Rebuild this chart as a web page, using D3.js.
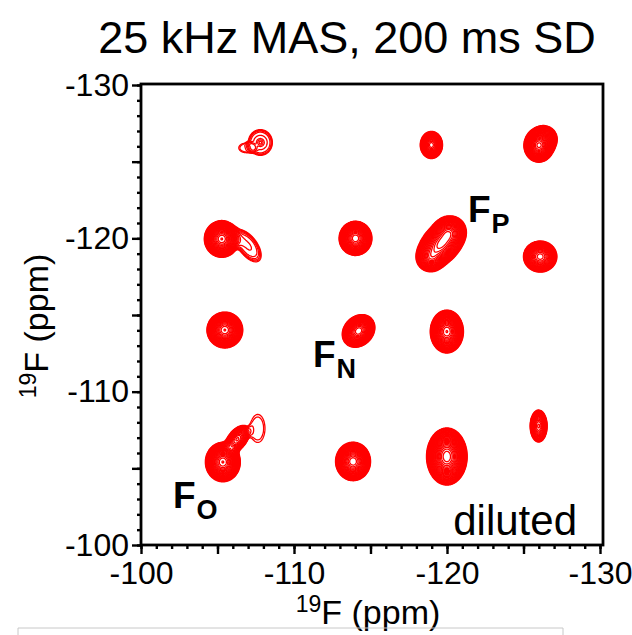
<!DOCTYPE html>
<html>
<head>
<meta charset="utf-8">
<script src="https://cdn.jsdelivr.net/npm/d3@7"></script>
<style>
  body { margin: 0; background: #fff; }
  svg { display: block; }
  text { font-family: "Liberation Sans", Arial, sans-serif; fill: #000; }
</style>
</head>
<body>
<svg id="chart" width="632" height="635"></svg>
<script>
// ---- Axis ranges and ticks (ppm) ----
const xDomain = [-100, -130];
const yDomain = [-130, -100];
const majorTicks = [-100, -105, -110, -115, -120, -125, -130];
const labelTicks = [-100, -110, -120, -130];
const minorTicks = d3.range(-100, -130.5, -1);

// ---- Peak components of the 19F-19F spin-diffusion spectrum ----
// centre shifts (ppm), widths (ppm, along the rotated principal axes),
// axis rotation (deg), relative height, line-shape exponent (1 = Gaussian, >1 flat-topped)
const peakF2     = [-107.80, -106.90, -107.80, -118.98, -126.00, -126.34, -105.28, -107.00, -119.61, -120.13, -118.95, -114.02, -126.09, -105.48, -114.22, -119.99, -105.35, -106.30, -107.63, -113.86, -119.99, -125.99];
const peakF1     = [-126.25, -125.90, -126.25, -126.09, -126.05, -126.48, -119.96, -119.50, -119.63, -120.41, -118.72, -120.00, -118.81, -114.02, -113.96, -113.92, -105.41, -106.90, -107.60, -105.45, -105.77, -107.76];
const peakWidthA = [0.60, 0.45, 0.15, 0.28, 0.34, 0.40, 0.40, 0.90, 0.70, 0.40, 0.36, 0.385, 0.42, 0.41, 0.42, 0.38, 0.40, 0.45, 0.43, 0.41, 0.45, 0.24];
const peakWidthB = [0.64, 0.28, 0.15, 0.34, 0.38, 0.40, 0.42, 0.45, 0.45, 0.40, 0.36, 0.40, 0.39, 0.41, 0.34, 0.49, 0.45, 0.26, 0.83, 0.45, 0.63, 0.45];
const peakAngle  = [0, 0, 0, 0, 0, 0, 0, 126, 47.7, 0, 0, 0, 0, 0, 45, 0, 0, 52, 0, 0, 0, 0];
const peakHeight = [1.9, 1.3, 1.3, 30, 60, 10, 60, 2.2, 40, 22, 14, 50, 30, 60, 50, 60, 60, 15, 1.25, 50, 80, 15];
const peakShape  = [3, 3, 1, 1, 1, 1, 1, 2, 1, 1, 1, 1, 1, 1, 1, 1, 1, 1, 3, 1, 1, 1];

// contour levels: geometric series above the base level
const contourBase = 1, contourFactor = 1.17, contourCount = 34;

// ---- Layout ----
const svg = d3.select("#chart");
const margin = { left: 141, right: 600, top: 85, bottom: 545 };
const x = d3.scaleLinear().domain(xDomain).range([margin.left, margin.right]);
const y = d3.scaleLinear().domain(yDomain).range([margin.top, margin.bottom]);

// ---- Spectrum grid ----
const step = 0.05;
const nx = Math.round(Math.abs(xDomain[1] - xDomain[0]) / step) + 1;
const ny = Math.round(Math.abs(yDomain[1] - yDomain[0]) / step) + 1;
const grid = new Float64Array(nx * ny);
for (let k = 0; k < peakF2.length; k++) {
  const cu = peakF2[k], cv = peakF1[k];
  const sa = peakWidthA[k], sb = peakWidthB[k];
  const th = peakAngle[k] * Math.PI / 180, c = Math.cos(th), s = Math.sin(th);
  const A = peakHeight[k], p = peakShape[k];
  const reach = 6 * Math.max(sa, sb);
  for (let j = 0; j < ny; j++) {
    const v = yDomain[0] + j * step;
    if (Math.abs(v - cv) > reach) continue;
    for (let i = 0; i < nx; i++) {
      const u = xDomain[0] - i * step;
      if (Math.abs(u - cu) > reach) continue;
      const du = u - cu, dv = v - cv;
      const a = du * c + dv * s, b = -du * s + dv * c;
      const q = (a * a) / (sa * sa) + (b * b) / (sb * sb);
      grid[j * nx + i] += A * Math.exp(-Math.pow(q / 2, p));
    }
  }
}

const thresholds = d3.range(contourCount).map(k => contourBase * Math.pow(contourFactor, k));
const contours = d3.contours().size([nx, ny]).thresholds(thresholds)(grid);

const toPlot = d3.geoTransform({
  point(gx, gy) {
    this.stream.point(x(xDomain[0] - (gx - 0.5) * step), y(yDomain[0] + (gy - 0.5) * step));
  }
});
const path = d3.geoPath(toPlot);

svg.append("g")
  .attr("fill", "none")
  .attr("stroke", "#ff0000")
  .attr("stroke-width", 1.3)
  .attr("stroke-linejoin", "round")
  .selectAll("path")
  .data(contours)
  .join("path")
  .attr("d", path);

// ---- Frame ----
svg.append("rect")
  .attr("x", margin.left).attr("y", margin.top - 1)
  .attr("width", 603 - margin.left).attr("height", margin.bottom - margin.top + 1)
  .attr("fill", "none").attr("stroke", "#000").attr("stroke-width", 2.8);

// ---- Axes ----
const axisFont = 32;
function styleAxis(g) {
  g.select(".domain").remove();
  g.selectAll(".tick line").attr("stroke", "#000").attr("stroke-width", 2.4);
  g.selectAll(".tick text").attr("font-size", axisFont)
    .style("font-family", '"Liberation Sans", Arial, sans-serif').attr("fill", "#000");
}
const tickLabel = d => labelTicks.includes(d) ? String(d) : "";

svg.append("g").attr("transform", `translate(0,${margin.bottom})`)
  .call(d3.axisBottom(x).tickValues(minorTicks).tickSize(4).tickFormat(""))
  .call(styleAxis);
svg.append("g").attr("transform", `translate(0,${margin.bottom})`)
  .call(d3.axisBottom(x).tickValues(majorTicks).tickSize(9).tickPadding(7).tickFormat(tickLabel))
  .call(styleAxis);

svg.append("g").attr("transform", `translate(${margin.left},0)`)
  .call(d3.axisLeft(y).tickValues(minorTicks).tickSize(4).tickFormat(""))
  .call(styleAxis);
svg.append("g").attr("transform", `translate(${margin.left},0)`)
  .call(d3.axisLeft(y).tickValues(majorTicks).tickSize(9).tickPadding(3).tickFormat(tickLabel))
  .call(styleAxis);

// ---- Titles ----
svg.append("text")
  .attr("x", 347).attr("y", 53)
  .attr("text-anchor", "middle")
  .attr("font-size", 45)
  .text("25 kHz MAS, 200 ms SD");

function axisTitle(sel) {
  sel.append("tspan").attr("font-size", 23).attr("dy", -12).text("19");
  sel.append("tspan").attr("font-size", 34).attr("dy", 12).text("F (ppm)");
}
svg.append("text")
  .attr("x", 368).attr("y", 624)
  .attr("text-anchor", "middle")
  .call(axisTitle);
svg.append("text")
  .attr("transform", "translate(48,326) rotate(-90)")
  .attr("text-anchor", "middle")
  .call(axisTitle);

// ---- Site labels ----
const siteLabels = [
  { main: "F", sub: "P", x: 468, y: 222 },
  { main: "F", sub: "N", x: 313, y: 367 },
  { main: "F", sub: "O", x: 173, y: 508 }
];
siteLabels.forEach(d => {
  const t = svg.append("text").attr("x", d.x).attr("y", d.y).attr("font-weight", "bold");
  t.append("tspan").attr("font-size", 37).text(d.main);
  t.append("tspan").attr("font-size", 27).attr("dx", 1).attr("dy", 11).text(d.sub);
});

svg.append("text")
  .attr("x", 577).attr("y", 535)
  .attr("text-anchor", "end")
  .attr("font-size", 42)
  .text("diluted");

// ---- Caption box edge below the plot ----
svg.append("path")
  .attr("d", "M18,640V628H563V640")
  .attr("fill", "none").attr("stroke", "#c8c8c8").attr("stroke-width", 1);
</script>
</body>
</html>
